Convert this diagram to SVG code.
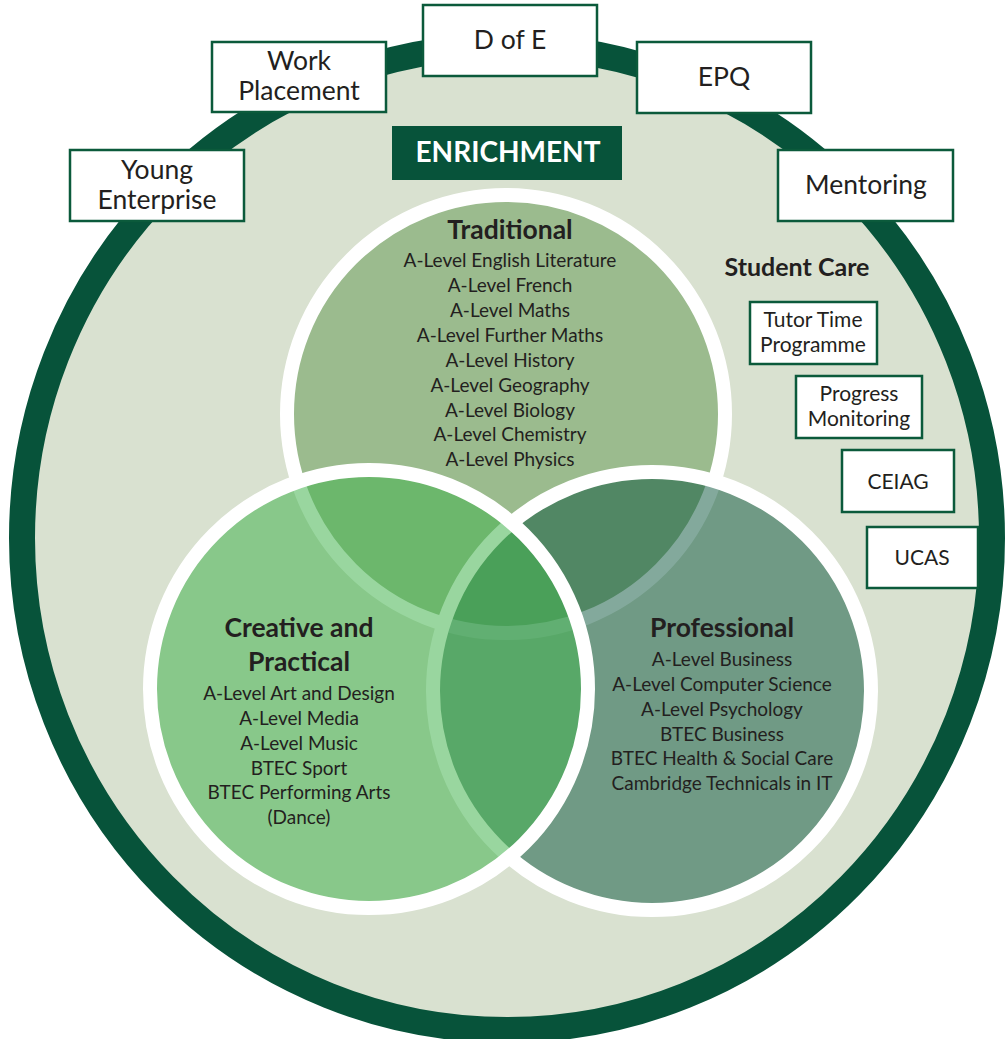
<svg xmlns="http://www.w3.org/2000/svg" width="1008" height="1039" viewBox="0 0 1008 1039">
<style>
.box{fill:#ffffff;stroke:#0b5a3b;stroke-width:2.5}
.lbl{font-family:Lato,"Open Sans",sans-serif;font-size:26.5px;fill:#231f20;text-anchor:middle}
.sc{font-family:Lato,"Open Sans",sans-serif;font-size:21px;fill:#231f20;text-anchor:middle}
.ttl{font-family:Lato,"Open Sans",sans-serif;font-size:26.5px;font-weight:bold;fill:#231f20;text-anchor:middle}
.item{font-family:Lato,"Open Sans",sans-serif;font-size:19px;fill:#231f20;text-anchor:middle}
.venn{stroke:#ffffff;stroke-width:14}
</style>
<rect width="1008" height="1039" fill="#ffffff"/>
<g id="outer-ring">
<ellipse cx="507" cy="538" rx="485" ry="492" fill="#d9e1d0" stroke="#07533a" stroke-width="26"/>
</g>
<g id="traditional">
<circle class="venn" cx="506" cy="414" r="219" fill="#9bbb8e"/>
</g>
<g id="professional">
<circle class="venn" cx="652" cy="691" r="219" fill="#07533a" fill-opacity="0.5"/>
</g>
<g id="creative">
<circle class="venn" cx="369" cy="689" r="219" fill="rgb(70,180,80)" fill-opacity="0.55"/>
</g>
<g id="traditional-text">
<text class="ttl" x="510" y="239">Traditional</text>
<text class="item" x="510" y="267">A-Level English Literature</text>
<text class="item" x="510" y="292">A-Level French</text>
<text class="item" x="510" y="317">A-Level Maths</text>
<text class="item" x="510" y="342">A-Level Further Maths</text>
<text class="item" x="510" y="367">A-Level History</text>
<text class="item" x="510" y="392">A-Level Geography</text>
<text class="item" x="510" y="417">A-Level Biology</text>
<text class="item" x="510" y="441">A-Level Chemistry</text>
<text class="item" x="510" y="466">A-Level Physics</text>
</g>
<g id="creative-text">
<text class="ttl" x="299" y="637">Creative and</text>
<text class="ttl" x="299" y="671">Practical</text>
<text class="item" x="299" y="700">A-Level Art and Design</text>
<text class="item" x="299" y="725">A-Level Media</text>
<text class="item" x="299" y="750">A-Level Music</text>
<text class="item" x="299" y="775">BTEC Sport</text>
<text class="item" x="299" y="799">BTEC Performing Arts</text>
<text class="item" x="299" y="824">(Dance)</text>
</g>
<g id="professional-text">
<text class="ttl" x="722" y="637">Professional</text>
<text class="item" x="722" y="666">A-Level Business</text>
<text class="item" x="722" y="691">A-Level Computer Science</text>
<text class="item" x="722" y="716">A-Level Psychology</text>
<text class="item" x="722" y="741">BTEC Business</text>
<text class="item" x="722" y="765">BTEC Health &amp; Social Care</text>
<text class="item" x="722" y="790">Cambridge Technicals in IT</text>
</g>
<g id="enrichment">
<rect x="392" y="126" width="230" height="54" fill="#07533a"/>
<text x="508" y="162" font-family="Lato,'Open Sans',sans-serif" font-size="28" font-weight="bold" fill="#ffffff" text-anchor="middle">ENRICHMENT</text>
</g>
<g id="young-enterprise">
<rect class="box" x="70" y="150" width="174" height="71"/>
<text class="lbl" x="157" y="179">Young</text>
<text class="lbl" x="157" y="209">Enterprise</text>
</g>
<g id="work-placement">
<rect class="box" x="212" y="42" width="174" height="70"/>
<text class="lbl" x="299" y="70">Work</text>
<text class="lbl" x="299" y="100">Placement</text>
</g>
<g id="d-of-e">
<rect class="box" x="423" y="5" width="174" height="71"/>
<text class="lbl" x="510" y="49">D of E</text>
</g>
<g id="epq">
<rect class="box" x="637" y="42" width="174" height="71"/>
<text class="lbl" x="724" y="86">EPQ</text>
</g>
<g id="mentoring">
<rect class="box" x="778" y="150" width="175" height="71"/>
<text class="lbl" x="866" y="194">Mentoring</text>
</g>
<g id="student-care">
<text x="797" y="276" font-family="Lato,'Open Sans',sans-serif" font-size="25" font-weight="bold" fill="#231f20" text-anchor="middle">Student Care</text>
</g>
<g id="tutor-time">
<rect class="box" x="750" y="302" width="127" height="62"/>
<text class="sc" x="813" y="327">Tutor Time</text>
<text class="sc" x="813" y="352">Programme</text>
</g>
<g id="progress-monitoring">
<rect class="box" x="796" y="376" width="126" height="62"/>
<text class="sc" x="859" y="401">Progress</text>
<text class="sc" x="859" y="426">Monitoring</text>
</g>
<g id="ceiag">
<rect class="box" x="842" y="450" width="112" height="62"/>
<text class="sc" x="898" y="489">CEIAG</text>
</g>
<g id="ucas">
<rect class="box" x="867" y="527" width="111" height="61"/>
<text class="sc" x="922" y="565">UCAS</text>
</g>
<g id="connectors"/>
</svg>
